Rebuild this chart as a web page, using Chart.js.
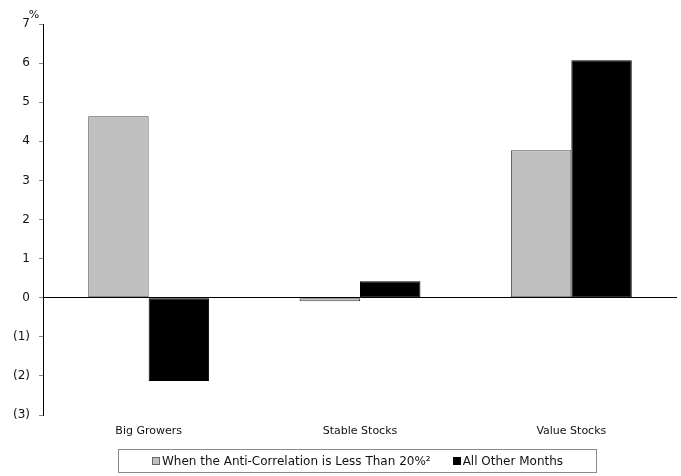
<!DOCTYPE html>
<html lang="en">
<head>
<meta charset="UTF-8">
<title>Returns by Stock Group</title>
<script src="https://cdn.jsdelivr.net/npm/chart.js"></script>
<style>
    body {
        margin: 0;
        background: #fff;
        font-family: "DejaVu Sans", sans-serif;
    }
    .wrap {
        position: relative;
        width: 681px;
        height: 476px;
    }
    #legend {
        position: absolute;
        left: 118px;
        top: 449px;
        width: 477px;
        height: 22px;
        border: 1px solid #8a8a8a;
        display: flex;
        align-items: center;
        justify-content: center;
        font-size: 12px;
        color: #111;
        white-space: nowrap;
    }
    #legend span.sw {
        display: inline-block;
        width: 6px;
        height: 6px;
        margin-right: 2px;
    }
    #legend .item {
        display: flex;
        align-items: center;
    }
</style>
</head>
<body>
<div class="wrap">
    <canvas id="chart" width="681" height="476"></canvas>
    <div id="legend"></div>
</div>

<script>
    const categories = ['Big Growers', 'Stable Stocks', 'Value Stocks'];
    const seriesNames = ['When the Anti-Correlation is Less Than 20%\u00b2', 'All Other Months'];
    const lowCorrValues = [4.64, -0.09, 3.77];
    const otherMonthsValues = [-2.13, 0.42, 6.07];
    const yMin = -3;
    const yMax = 7;

    const fills = ['#c0c0c0', '#000000'];
    const borders = ['#4a4a4a', '#000000'];

    // "%" marker above the top of the value axis
    const percentMark = {
        id: 'percentMark',
        afterDraw(chart) {
            const ctx = chart.ctx;
            const area = chart.chartArea;
            ctx.save();
            ctx.font = '11px "DejaVu Sans"';
            ctx.fillStyle = '#111';
            ctx.textAlign = 'center';
            ctx.textBaseline = 'bottom';
            ctx.fillText('%', area.left - 9, area.top - 3);
            ctx.restore();
        }
    };

    new Chart(document.getElementById('chart'), {
        type: 'bar',
        data: {
            labels: categories,
            datasets: [{
                label: seriesNames[0],
                data: lowCorrValues,
                backgroundColor: fills[0],
                borderColor: borders[0],
                borderWidth: 1,
                borderSkipped: false
            }, {
                label: seriesNames[1],
                data: otherMonthsValues,
                backgroundColor: fills[1],
                borderColor: borders[1],
                borderWidth: 1,
                borderSkipped: false
            }]
        },
        options: {
            responsive: false,
            animation: false,
            layout: {
                padding: { top: 24, right: 4, left: 0, bottom: 31 }
            },
            plugins: {
                legend: { display: false },
                tooltip: { enabled: false }
            },
            datasets: {
                bar: {
                    categoryPercentage: 0.572,
                    barPercentage: 1
                }
            },
            scales: {
                x: {
                    grid: { display: false, drawTicks: false },
                    border: { display: false },
                    ticks: {
                        color: '#111',
                        font: { family: 'DejaVu Sans', size: 11 },
                        padding: 10,
                        maxRotation: 0
                    },
                    afterFit(scale) { scale.height = 30; }
                },
                y: {
                    min: yMin,
                    max: yMax,
                    border: { display: true, color: '#000', width: 1 },
                    grid: {
                        drawOnChartArea: true,
                        color: c => c.tick && c.tick.value === 0 ? '#000' : 'rgba(0,0,0,0)',
                        tickColor: '#888',
                        tickLength: 4,
                        lineWidth: 1
                    },
                    ticks: {
                        stepSize: 1,
                        color: '#111',
                        font: { family: 'DejaVu Sans', size: 12 },
                        padding: 9,
                        callback: v => v < 0 ? '(' + Math.abs(v) + ')' : String(v)
                    },
                    afterFit(scale) { scale.width = 43; }
                }
            }
        },
        plugins: [percentMark]
    });

    // legend below the plot
    const legend = document.getElementById('legend');
    seriesNames.forEach((name, i) => {
        const item = document.createElement('div');
        item.className = 'item';
        if (i > 0) item.style.marginLeft = '22px';
        const sw = document.createElement('span');
        sw.className = 'sw';
        sw.style.background = fills[i];
        sw.style.border = '1px solid ' + (i === 0 ? '#666' : '#000');
        const txt = document.createElement('span');
        txt.textContent = name;
        item.appendChild(sw);
        item.appendChild(txt);
        legend.appendChild(item);
    });
</script>
</body>
</html>
